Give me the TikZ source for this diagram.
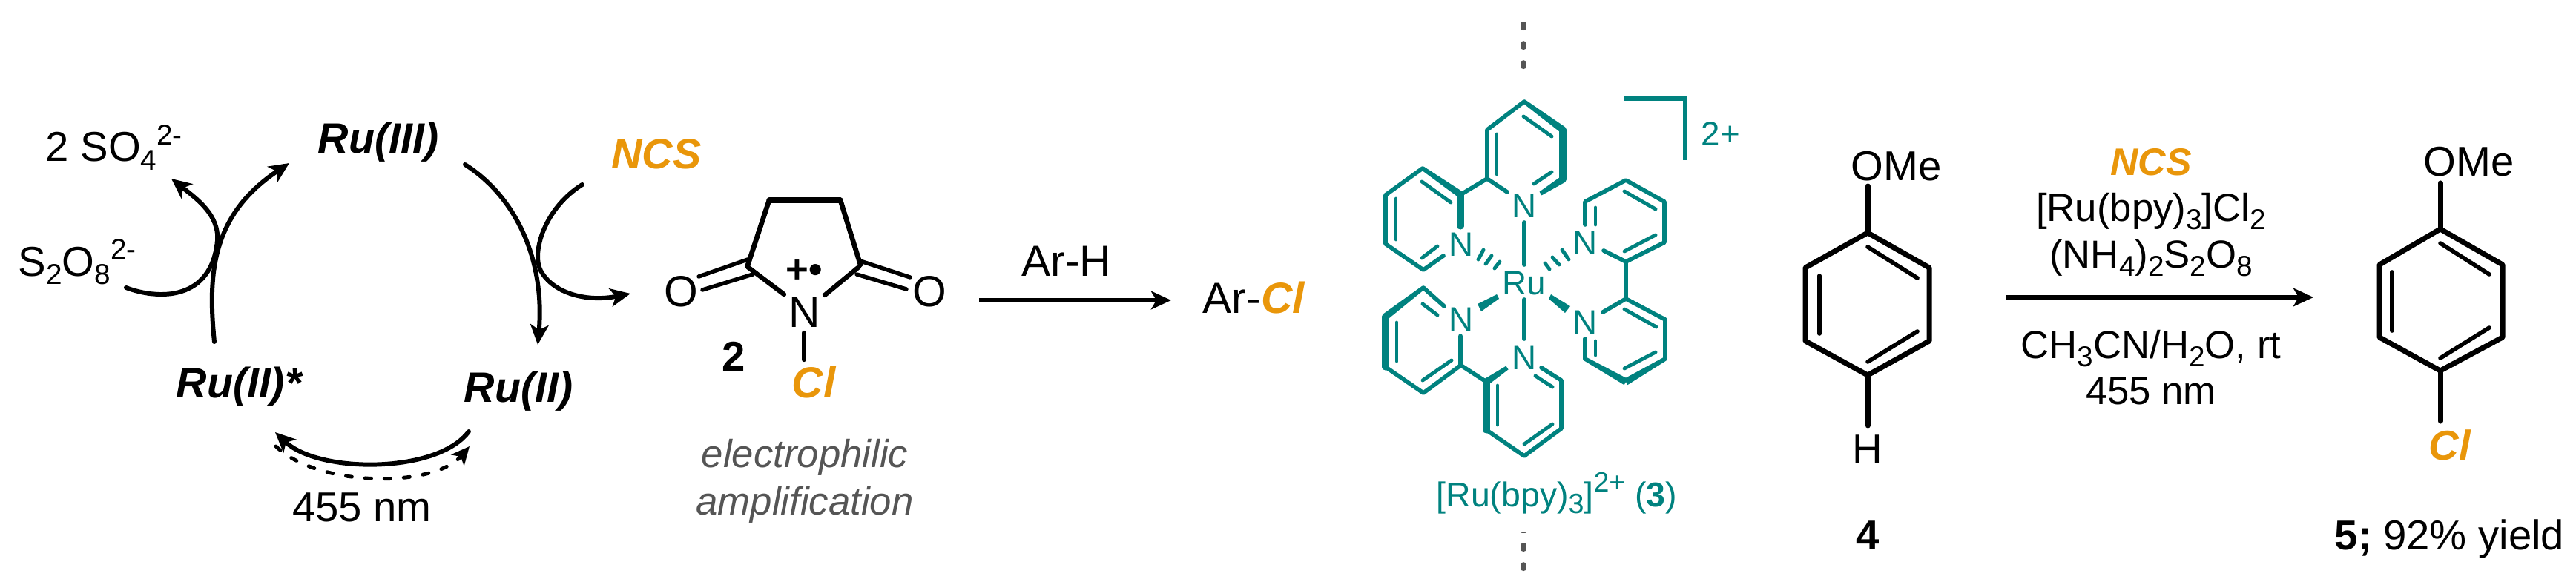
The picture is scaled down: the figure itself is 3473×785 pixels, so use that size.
\documentclass[tikz,border=0pt]{standalone}
\usepackage{fontspec}
\setmainfont{Liberation Sans}
\usetikzlibrary{calc,arrows.meta}
\definecolor{ncsorange}{RGB}{233,150,10}
\definecolor{bpyteal}{RGB}{0,130,127}
\definecolor{dotgray}{RGB}{85,85,85}
\newcommand{\lo}[1]{\raisebox{-.21em}{\fontsize{11}{11}\selectfont #1}}
\newcommand{\hi}[1]{\raisebox{.40em}{\fontsize{11}{11}\selectfont #1}}
\newcommand{\cl}{\textcolor{ncsorange}{\bfseries\itshape Cl}}
\newcommand{\taper}[2]{\fill[bpyteal] ($(#1)!.8pt!90:(#2)$) -- ($(#2)!1.35pt!-90:(#1)$) -- ($(#2)!1.35pt!90:(#1)$) -- ($(#1)!.8pt!-90:(#2)$) -- cycle;}
\tikzset{
  lbl/.style={inner sep=0pt,anchor=base,font=\fontsize{16}{18}\selectfont},
  biglbl/.style={lbl,font=\fontsize{16.7}{18}\selectfont},
  condlbl/.style={lbl,font=\fontsize{15}{18}\selectfont},
  numlbl/.style={lbl,font=\fontsize{16}{18}\selectfont\bfseries},
  rulbl/.style={lbl,font=\fontsize{16.3}{18}\selectfont\bfseries\itshape},
  tlbl/.style={lbl,text=bpyteal,font=\fontsize{13}{16}\selectfont},
  arr/.style={line width=1.7pt,-{Stealth[length=7.7pt,width=7pt,inset=2pt]}},
  bond/.style={line width=2pt,line cap=round,line join=round},
  inbond/.style={line width=1.6pt,line cap=round},
  rbond/.style={line width=1.8pt,line cap=round,line join=round},
  tbond/.style={line width=1.6pt,line cap=round,line join=round,bpyteal},
  tinner/.style={line width=1.4pt,line cap=round,bpyteal},
  tbold/.style={line width=2.6pt,line cap=round,bpyteal},
  thash/.style={line width=1.4pt,line cap=round,bpyteal},
}
\begin{document}
\begin{tikzpicture}[x=0.01cm,y=-0.01cm]
      \useasboundingbox (0,0) rectangle (3473,785);
      % cycle
      \node[rulbl] (ruiii) at (510,206) {Ru(III)};
      \node[rulbl] (ruiistar) at (322,536) {Ru(II)*};
      \node[rulbl] (ruii) at (699,542) {Ru(II)};
      \node[rulbl,text=ncsorange] (ncs) at (885,228) {NCS};
      \node[lbl,anchor=base west] (so4) at (61,218) {2 SO\lo{4}\hi{2-}};
      \node[lbl,anchor=base west] (s2o8) at (24,372) {S\lo{2}O\lo{8}\hi{2-}};
      \node[lbl] (nm) at (488,703) {455 nm};
      \coordinate (ruiistar-a) at (289,461);
      \coordinate (ruiii-b) at (390,220);
      \coordinate (s2o8-a) at (170,388);
      \coordinate (so4-b) at (231,241);
      \coordinate (ruiii-a) at (627,222);
      \coordinate (ruii-b) at (725,465);
      \coordinate (ncs-a) at (785,249);
      \coordinate (rad-b) at (850,396);
      \coordinate (ruii-a) at (632,582);
      \coordinate (ruiistar-b) at (371,583);
      \coordinate (ruiistar-c) at (372,602);
      \coordinate (ruii-c) at (633,602);
      \draw[arr,line cap=round] (ruiistar-a) .. controls (280,370) and (285,290) .. (ruiii-b);
      \draw[arr,line cap=round] (s2o8-a) .. controls (215,405) and (285,405) .. (293,325) .. controls (296,290) and (265,268) .. (so4-b);
      \draw[arr,line cap=round] (ruiii-a) .. controls (695,265) and (735,350) .. (ruii-b);
      \draw[arr,line cap=round] (ncs-a) .. controls (735,280) and (716,340) .. (729,365) .. controls (745,395) and (790,408) .. (rad-b);
      \draw[arr,line cap=round] (ruii-a) .. controls (590,639) and (430,639) .. (ruiistar-b);
      \draw[line width=1.4pt,line cap=round,dash pattern=on 2.3pt off 5.1pt,-{Stealth[length=7pt,width=6.5pt,inset=1.8pt]}] (ruiistar-c) .. controls (430,658) and (585,658) .. (ruii-c);
      % radical cation 2
      \draw[line width=1.9pt,line cap=round] (1008,358) -- (1037,270);
      \draw[line width=1.9pt,line cap=round] (1133,270) -- (1160,357);
      \draw[line width=2pt,line cap=round] (1037,270) -- (1133,270);
      \draw[rbond] (1008,360) -- (1057,397);
      \draw[rbond] (1158,360) -- (1112,398);
      \draw[line width=1.55pt,line cap=round] (1008,350) -- (942,373);
      \draw[line width=1.55pt,line cap=round] (1015,370) -- (947,391);
      \draw[line width=1.55pt,line cap=round] (1160,352) -- (1227,374);
      \draw[line width=1.55pt,line cap=round] (1155,370) -- (1222,390);
      \draw[rbond] (1084,449) -- (1084,485);
      \node[biglbl] (nrad) at (1085,441) {N};
      \node[biglbl] (oleft) at (918,413) {O};
      \node[biglbl] (oright) at (1253,413) {O};
      \node[lbl,font=\fontsize{15}{16}\selectfont\bfseries] (charge) at (1084,381) {+•};
      \node[biglbl] (clrad) at (1097,536) {\cl};
      \node[numlbl] (num2) at (989,500) {2};
      \node[lbl,text=dotgray,font=\fontsize{15}{18}\selectfont\itshape] (elec) at (1085,630) {electrophilic};
      \node[lbl,text=dotgray,font=\fontsize{15}{18}\selectfont\itshape] (ampl) at (1085,694) {amplification};
      \coordinate (arh-a) at (1320,405);
      \coordinate (arh-b) at (1579,405);
      \draw[arr] (arh-a) -- (arh-b);
      \node[biglbl] (arh) at (1438,372) {Ar-H};
      \node[biglbl,anchor=base west] (arcl) at (1621,422) {Ar-\cl};
      % dotted separator
      \draw[dotgray,line width=2.2pt,line cap=round,dash pattern=on 1.2pt off 6.2pt] (2054,33) -- (2054,95);
      \draw[dotgray,line width=2.2pt,line cap=round,dash pattern=on 1.2pt off 6.2pt] (2054,736) -- (2054,770);
      \fill[dotgray] (2054,718) ellipse (4 and 1);
      % [Ru(bpy)3]2+
      \node[tlbl] (ru) at (2055,397) {Ru};
      \node[tlbl] (n1) at (2055,293) {N};
      \node[tlbl] (n2) at (1970,345) {N};
      \node[tlbl] (n3) at (1970,446) {N};
      \node[tlbl] (n4) at (2055,498) {N};
      \node[tlbl] (n5) at (2137,343) {N};
      \node[tlbl] (n6) at (2137,450) {N};
      % top ring
      \draw[tbond] (2032,259) -- (2005,241) -- (2005,175) -- (2055,137);
      \taper{2055,137}{2107,175}
      \draw[tbold] (2107,175) -- (2107,242);
      \taper{2077,261}{2107,242}
      \draw[tinner] (2054,157) -- (2092,184);
      \draw[tinner] (2018,181) -- (2018,235);
      \draw[tinner] (2092,232) -- (2068,248);
      \draw[tbond] (2005,241) -- (1970,262);
      % upper left ring
      \taper{1918,227}{1970,263}
      \draw[tbold] (1969,263) -- (1969,305);
      \draw[tbond] (1918,227) -- (1868,263) -- (1868,329) -- (1919,364) -- (1946,345);
      \draw[tinner] (1882,268) -- (1882,323);
      \draw[tinner] (1917,245) -- (1956,273);
      \draw[tinner] (1917,348) -- (1938,332);
      % lower left ring
      \draw[tbond] (1947,413) -- (1919,388);
      \taper{1919,388}{1868,427}
      \draw[tbold] (1868,427) -- (1868,495);
      \draw[tbond] (1868,495) -- (1919,530) -- (1969,493) -- (1969,453);
      \draw[tinner] (1883,435) -- (1883,487);
      \draw[tinner] (1918,410) -- (1938,425);
      \draw[tinner] (1918,513) -- (1957,486);
      \draw[tbond] (1970,493) -- (2004,515);
      % bottom ring
      \taper{2032,496}{2004,515}
      \draw[tbold] (2004,515) -- (2004,580);
      \draw[tbond] (2078,496) -- (2105,513) -- (2105,578) -- (2055,615) -- (2004,580);
      \draw[tinner] (2019,520) -- (2019,573);
      \draw[tinner] (2055,599) -- (2093,572);
      \draw[tinner] (2093,522) -- (2070,507);
      % upper right ring
      \draw[tbond] (2137,303) -- (2137,272) -- (2192,243) -- (2244,272) -- (2244,327) -- (2192,353) -- (2162,338);
      \draw[tinner] (2151,280) -- (2151,303);
      \draw[tinner] (2190,258) -- (2232,282);
      \draw[tinner] (2190,339) -- (2232,317);
      \draw[tbond] (2192,353) -- (2192,403);
      % lower right ring
      \draw[tbond] (2161,421) -- (2192,403) -- (2245,431) -- (2245,484);
      \draw[tinner] (2190,417) -- (2233,441);
      \draw[tinner] (2190,497) -- (2232,475);
      \draw[tinner] (2151,460) -- (2151,479);
      \draw[tbond] (2137,457) -- (2137,484);
      \taper{2137,484}{2192,515}
      \taper{2245,484}{2192,515}
      % Ru bonds
      \draw[tbond] (2055,300) -- (2055,357);
      \draw[tbond] (2055,404) -- (2055,457);
      \draw[thash] (1993,350) -- (2000,337);
      \draw[thash] (2003,356) -- (2011,345);
      \draw[thash] (2015,362) -- (2022,353);
      \draw[thash] (2083,355) -- (2089,363);
      \draw[thash] (2093,347) -- (2102,357);
      \draw[thash] (2106,337) -- (2115,350);
      \fill[bpyteal] (2018,397) -- (2021,403) -- (1997,420) -- (1992,410) -- cycle;
      \fill[bpyteal] (2088,403) -- (2091,397) -- (2117,413) -- (2110,422) -- cycle;
      \draw[bpyteal,line width=1.7pt] (2189,133) -- (2272,133) -- (2272,216);
      \node[tlbl,anchor=base west] (charge2) at (2293,197) {2+};
      \node[lbl,text=bpyteal,font=\fontsize{13.2}{16}\selectfont,anchor=base west] (runame) at (1936,683) {[Ru(bpy)\raisebox{-.21em}{\fontsize{10.7}{10}\selectfont 3}]\raisebox{.41em}{\fontsize{10.7}{10}\selectfont 2+} (\textbf{3})};
      % anisole 4
      \draw[bond] (2518,314) -- (2601,361) -- (2601,460) -- (2518,506) -- (2434,460) -- (2434,361) -- cycle;
      \draw[inbond] (2518,333) -- (2585,375);
      \draw[inbond] (2453,372) -- (2453,450);
      \draw[inbond] (2518,488) -- (2585,447);
      \draw[bond] (2518,314) -- (2518,251);
      \draw[bond] (2518,506) -- (2518,574);
      \node[lbl,anchor=base west] (ome4) at (2495,243) {OMe};
      \node[lbl] (h4) at (2518,625) {H};
      \node[numlbl] (num4) at (2518,741) {4};
      % conditions
      \coordinate (cond-a) at (2705,401);
      \coordinate (cond-b) at (3119,401);
      \draw[arr] (cond-a) -- (cond-b);
      \node[rulbl,text=ncsorange,font=\fontsize{14.7}{18}\selectfont\bfseries\itshape] (ncs2) at (2900,236) {NCS};
      \node[condlbl] (cat) at (2900,298) {[Ru(bpy)\lo{3}]Cl\lo{2}};
      \node[condlbl] (oxid) at (2900,361) {(NH\lo{4})\lo{2}S\lo{2}O\lo{8}};
      \node[condlbl] (solv) at (2900,483) {CH\lo{3}CN/H\lo{2}O, rt};
      \node[condlbl] (nm2) at (2900,545) {455 nm};
      % product 5
      \draw[bond] (3290,309) -- (3374,357) -- (3374,455) -- (3290,500) -- (3208,455) -- (3208,357) -- cycle;
      \draw[inbond] (3290,328) -- (3356,370);
      \draw[inbond] (3225,367) -- (3225,446);
      \draw[inbond] (3290,483) -- (3356,442);
      \draw[bond] (3290,309) -- (3290,247);
      \draw[bond] (3290,500) -- (3290,568);
      \node[lbl,anchor=base west] (ome5) at (3267,238) {OMe};
      \node[lbl] (cl5) at (3303,620) {\cl};
      \node[lbl,anchor=base west] (yield) at (3147,741) {\textbf{5;} 92\% yield};
\end{tikzpicture}
\end{document}
